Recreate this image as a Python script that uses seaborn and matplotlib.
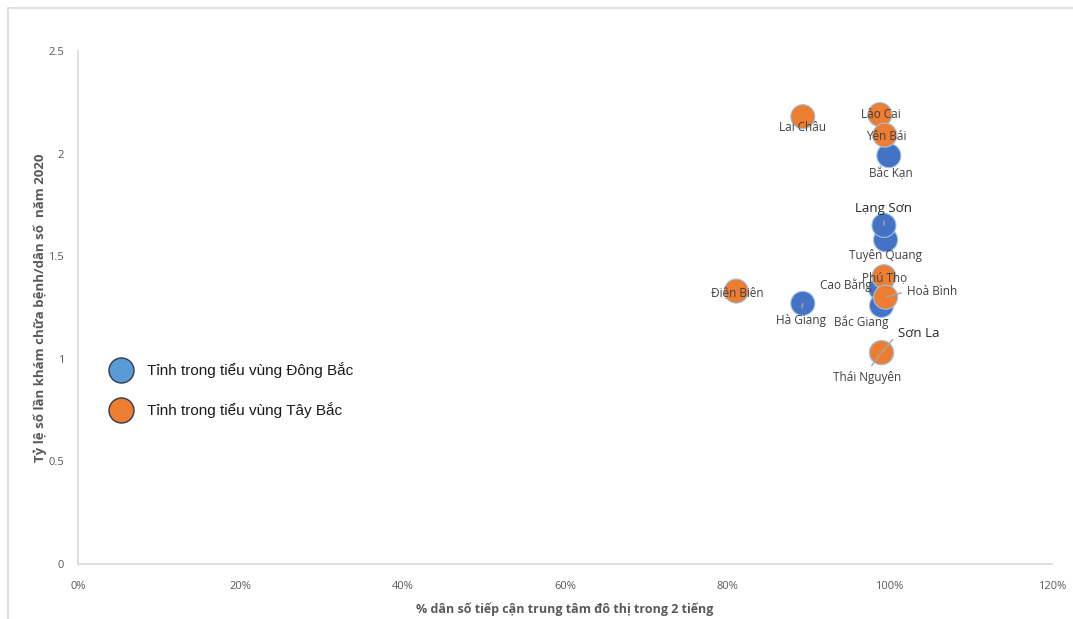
import matplotlib
matplotlib.use("Agg")
import matplotlib.pyplot as plt
from matplotlib.lines import Line2D
from matplotlib.ticker import FuncFormatter
import seaborn as sns
import pandas as pd

# Provinces of the northern midlands and mountains
provinces = ["Hà Giang", "Cao Bằng", "Bắc Kạn", "Tuyên Quang", "Lạng Sơn",
             "Thái Nguyên", "Bắc Giang",
             "Lai Châu", "Lào Cai", "Yên Bái", "Điện Biên", "Sơn La",
             "Phú Thọ", "Hoà Bình"]
regions = ["Đông Bắc"] * 7 + ["Tây Bắc"] * 7
# Share of population reaching an urban centre within 2 hours
access_share = [0.893, 0.989, 0.999, 0.995, 0.993, 0.990, 0.990,
                0.893, 0.988, 0.994, 0.811, 0.990, 0.993, 0.995]
# Medical visits per inhabitant, 2020
visits_ratio = [1.27, 1.34, 1.99, 1.58, 1.65, 1.03, 1.26,
                2.18, 2.19, 2.09, 1.33, 1.03, 1.40, 1.30]

legend_labels = ["Tỉnh trong tiểu vùng Đông Bắc", "Tỉnh trong tiểu vùng Tây Bắc"]
x_label = "% dân số tiếp cận trung tâm đô thị trong 2 tiếng"
y_label = "Tỷ lệ số lần khám chữa bệnh/dân số  năm 2020"

df = pd.DataFrame({"province": provinces, "region": regions,
                   "access": access_share, "visits": visits_ratio})

sns.set_theme(style="white")
plt.rcParams["font.family"] = ["Open Sans", "DejaVu Sans"]

fig = plt.figure(figsize=(10.73, 6.19), dpi=100)
ax = fig.add_axes([0.0727, 0.0889, 0.9077, 0.8287])

sns.scatterplot(data=df, x="access", y="visits", hue="region",
                hue_order=["Đông Bắc", "Tây Bắc"],
                palette={"Đông Bắc": "#4472C4", "Tây Bắc": "#ED7D31"},
                s=300, edgecolor="#9DC3E6", linewidth=0.8, legend=False,
                ax=ax, zorder=3)

# Point labels: (dx, dy) in pixels, leader-line anchor on the text (or None),
# emphasised style
label_layout = {
    "Lai Châu": (0, -11, None, False),
    "Lào Cai": (1, 0, None, False),
    "Yên Bái": (1, -1, None, False),
    "Bắc Kạn": (2, -17, None, False),
    "Lạng Sơn": (0, 17, (0.5, 0.0), True),
    "Tuyên Quang": (0, -16, None, False),
    "Phú Thọ": (1, -1, None, False),
    "Cao Bằng": (-35, 4, None, False),
    "Hoà Bình": (47, 6, (0.0, 0.5), False),
    "Bắc Giang": (-20, -17, None, False),
    "Điện Biên": (1, -1, None, False),
    "Hà Giang": (-2, -17, (0.5, 1.0), False),
    "Sơn La": (37, 19, (0.0, 0.5), True),
    "Thái Nguyên": (-14, -25, (0.5, 1.0), False),
}
for name, x, y in zip(provinces, access_share, visits_ratio):
    dx, dy, anchor, strong = label_layout[name]
    arrow = None
    if anchor is not None:
        arrow = dict(arrowstyle="-", color="#A6A6A6", lw=1.0,
                     shrinkA=2, shrinkB=0, relpos=anchor)
    ax.annotate(name, (x, y), xytext=(dx, dy), textcoords="offset pixels",
                ha="center", va="center",
                fontsize=9.5 if strong else 8.5,
                color="#262626" if strong else "#404040",
                arrowprops=arrow, zorder=4)

ax.set_xlim(0, 1.2)
ax.set_ylim(0, 2.5)
ax.set_xticks([0, 0.2, 0.4, 0.6, 0.8, 1.0, 1.2])
ax.set_yticks([0, 0.5, 1, 1.5, 2, 2.5])
ax.xaxis.set_major_formatter(FuncFormatter(lambda v, p: f"{v * 100:.0f}%"))
ax.yaxis.set_major_formatter(FuncFormatter(lambda v, p: f"{v:g}"))
ax.tick_params(axis="both", length=0, labelsize=8, labelcolor="#595959")
ax.tick_params(axis="x", pad=12)
ax.tick_params(axis="y", pad=10)

for side in ("top", "right"):
    ax.spines[side].set_visible(False)
for side in ("left", "bottom"):
    ax.spines[side].set_color("#D9D9D9")
    ax.spines[side].set_linewidth(1.2)

ax.set_xlabel(x_label, fontsize=9, fontweight="bold", color="#595959", labelpad=8)
ax.set_ylabel(y_label, fontsize=9.5, fontweight="bold", color="#595959", labelpad=1)

handles = [
    Line2D([], [], marker="o", linestyle="none", markersize=18,
           markerfacecolor="#5B9BD5", markeredgecolor="#2E3A4E", markeredgewidth=1.0),
    Line2D([], [], marker="o", linestyle="none", markersize=18,
           markerfacecolor="#ED7D31", markeredgecolor="#2E3A4E", markeredgewidth=1.0),
]
leg = ax.legend(handles, legend_labels, loc="upper left",
                bbox_to_anchor=(0.022, 0.405), frameon=False,
                prop={"family": ["Liberation Sans", "DejaVu Sans"], "size": 11},
                labelspacing=1.55, handletextpad=0.7, borderaxespad=0)
for t in leg.get_texts():
    t.set_color("#1A1A1A")

# Chart area outline along the top and left edges
fig.add_artist(Line2D([8 / 1073, 1.0], [1 - 8 / 619, 1 - 8 / 619],
                      transform=fig.transFigure, color="#D9D9D9", lw=1.2))
fig.add_artist(Line2D([8 / 1073, 8 / 1073], [0.0, 1 - 8 / 619],
                      transform=fig.transFigure, color="#D9D9D9", lw=1.2))

fig.savefig("out.png", dpi=100)
